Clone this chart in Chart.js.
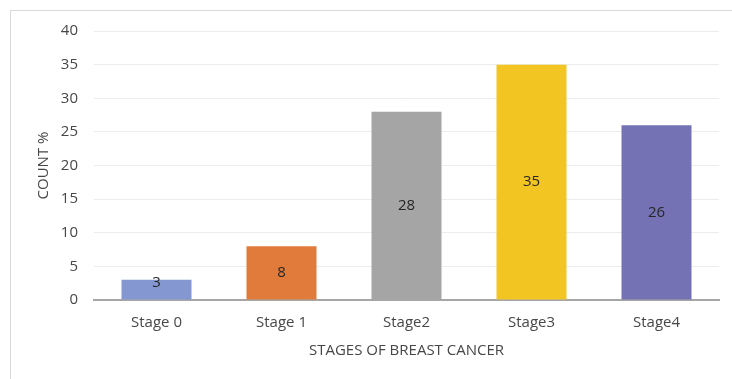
<!DOCTYPE html>
<html>
<head>
<meta charset="utf-8">
<script src="https://cdn.jsdelivr.net/npm/chart.js@4"></script>
<style>
  html, body { margin: 0; padding: 0; background: #fff; overflow: hidden; }
  #frame {
    position: absolute; left: 10px; top: 10px;
    width: 760px; height: 400px;
    border: 1px solid #d9d9d9;
  }
  #myChart { position: absolute; left: 0; top: 0; }
</style>
</head>
<body>
<div id="frame"></div>
<canvas id="myChart" width="732" height="379"></canvas>
<script>
const stages = ["Stage 0", "Stage 1", "Stage2", "Stage3", "Stage4"];
const counts = [3, 8, 28, 35, 26];
const barColors = ["#8497d1", "#e07b3b", "#a5a5a5", "#f2c523", "#7472b4"];
const yTicks = [0, 5, 10, 15, 20, 25, 30, 35, 40];

const fontFamily = "'Open Sans', 'Noto Sans', sans-serif";
const textColor = "#474747";

// draw the value inside each bar, like excel's "center" labels
const barLabels = {
  id: "barLabels",
  afterDatasetsDraw(chart) {
    const ctx = chart.ctx;
    const meta = chart.getDatasetMeta(0);
    ctx.save();
    ctx.font = "15px " + fontFamily;
    ctx.fillStyle = "#262626";
    ctx.textAlign = "center";
    ctx.textBaseline = "middle";
    meta.data.forEach((bar, i) => {
      let y = (bar.y + bar.base) / 2;
      y = Math.min(y, bar.base - 17);
      ctx.fillText(String(counts[i]), bar.x, y);
    });
    ctx.restore();
  },
};

const ctx = document.getElementById("myChart").getContext("2d");
const myChart = new Chart(ctx, {
  type: "bar",
  data: {
    labels: stages,
    datasets: [
      {
        data: counts,
        backgroundColor: barColors,
        borderWidth: 0,
        barPercentage: 0.56,
        categoryPercentage: 1,
      },
    ],
  },
  options: {
    responsive: false,
    animation: false,
    layout: {
      padding: { left: 0, right: 13, top: 31, bottom: 0 },
    },
    plugins: {
      legend: { display: false },
      tooltip: { enabled: false },
    },
    scales: {
      x: {
        grid: { display: false, drawTicks: false },
        border: { color: "#a6a6a6", width: 2 },
        ticks: {
          padding: 14,
          color: textColor,
          font: { size: 15, family: fontFamily },
        },
        title: {
          display: true,
          text: "STAGES OF BREAST CANCER",
          color: textColor,
          font: { size: 15, family: fontFamily },
          padding: { top: 0, bottom: 19 },
        },
        afterFit(scale) {
          scale.height = 79;
        },
      },
      y: {
        min: 0,
        max: 40,
        grid: { color: "#ececec", drawTicks: false },
        border: { display: false },
        afterBuildTicks(scale) {
          scale.ticks = yTicks.map((v) => ({ value: v }));
        },
        ticks: {
          padding: 16,
          color: textColor,
          font: { size: 15, family: fontFamily },
        },
        title: {
          display: true,
          text: "COUNT %",
          color: textColor,
          font: { size: 15, family: fontFamily },
          padding: { top: 35, bottom: 0 },
        },
        afterFit(scale) {
          scale.width = 94;
        },
      },
    },
  },
  plugins: [barLabels],
});
</script>
</body>
</html>
